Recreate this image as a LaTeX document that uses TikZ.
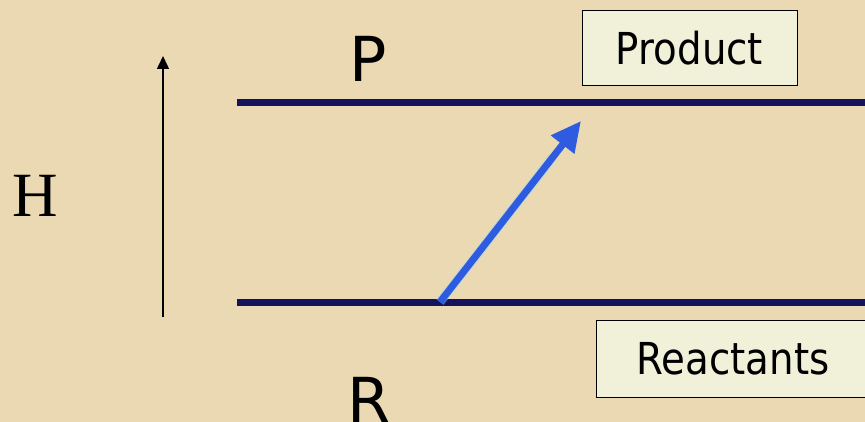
\documentclass[tikz,border=0pt]{standalone}
\usepackage{fontspec}
\setmainfont{Liberation Serif}
\newfontfamily\labelfont{DejaVu Sans}
\usetikzlibrary{arrows.meta}
\usetikzlibrary{positioning}
\usetikzlibrary{calc}

\definecolor{paper}{HTML}{EAD9B2}
\definecolor{levelblue}{HTML}{14145C}
\definecolor{stepblue}{HTML}{2F5BE0}
\definecolor{boxcream}{HTML}{F1F1DA}

\begin{document}
\begin{tikzpicture}[x=1pt,y=-1pt,
  level/.style={draw=levelblue,line width=7pt},
  tag/.style={draw=black,line width=1pt,fill=boxcream,rectangle,inner sep=0pt},
  letter/.style={inner sep=0pt,font=\labelfont\fontsize{62}{62}\selectfont}]
\fill[paper] (0,0) rectangle (865,422);
\useasboundingbox (0,0) rectangle (865,422);

% enthalpy axis
\coordinate (axisfoot) at (163,317);
\coordinate (axistip) at (163,56);
\draw[line width=1.5pt,-{Triangle[length=13pt,width=12pt]}] (axisfoot) -- (axistip);
\node[inner sep=0pt,font=\fontsize{63}{63}\selectfont] (H) at (35,196) {H};

% levels
\coordinate (pleft) at (237,102.5);
\coordinate (pright) at (870,102.5);
\coordinate (rleft) at (237,302.5);
\coordinate (rright) at (870,302.5);
\draw[level] (pleft) -- (pright);
\draw[level] (rleft) -- (rright);
\node[letter] (P) at (368,58.5) {P};
\node[letter] (R) at (369,399.5) {R};

% boxes
\node[tag,minimum width=215pt,minimum height=75pt,font=\labelfont\fontsize{44}{44}\selectfont] (product) at (689.5,48.5) {\scalebox{0.88}[1]{Product}};
\begin{scope}
\clip (0,0) rectangle (865,422);
\node[tag,minimum width=274pt,minimum height=77pt,font=\labelfont\fontsize{44}{44}\selectfont] (reactants) at (733,358.5) {\scalebox{0.88}[1]{Reactants}};
\end{scope}

% reaction step
\coordinate (stepfoot) at (440,302);
\coordinate (steptip) at (581,121);
\draw[white!55!cyan,line width=9pt,opacity=0.5] (stepfoot) -- ($(stepfoot)!0.8!(steptip)$);
\draw[stepblue,line width=7pt,-{Triangle[length=30pt,width=28pt]}] (stepfoot) -- (steptip);

\end{tikzpicture}
\end{document}
